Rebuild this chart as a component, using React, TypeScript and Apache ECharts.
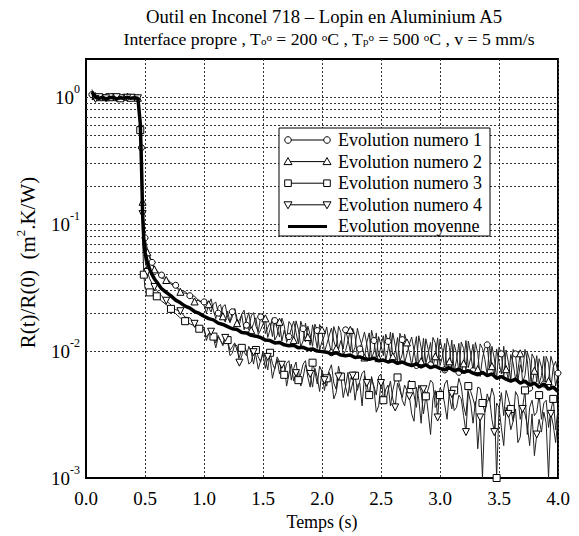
import React, { useEffect, useRef } from 'react';
import * as echarts from 'echarts';

const FONT = 'Liberation Serif';

const TITLE = 'Outil en Inconel 718 – Lopin en Aluminium A5';
const SUBTITLE = 'Interface propre , T{sub|o}{sup|o} = 200 {sup|o}C , T{sub|p}{sup|o} = 500 {sup|o}C , v = 5 mm/s';
const X_NAME = 'Temps (s)';
const Y_NAME = 'R(t)/R(0)  (m{sup|2}.K/W)';
const LEGEND_LABELS = ['Evolution numero 1', 'Evolution numero 2', 'Evolution numero 3', 'Evolution numero 4', 'Evolution moyenne'];

const X_MIN = 0;
const X_MAX = 4;
const X_INTERVAL = 0.5;
const Y_MIN = 0.001;
const Y_MAX = 2;
const Y_GRID = [
  0.002, 0.003, 0.004, 0.005, 0.006, 0.007, 0.008, 0.009,
  0.01, 0.02, 0.03, 0.04, 0.05, 0.06, 0.07, 0.08, 0.09,
  0.1, 0.2, 0.3, 0.4, 0.5, 0.6, 0.7, 0.8, 0.9, 1,
];

// time base of the mean curve
const TIME = [
  0.05, 0.08, 0.11, 0.14, 0.17, 0.20, 0.23, 0.26, 0.29, 0.32, 0.35, 0.38, 0.41, 0.44,
  0.46, 0.47, 0.48, 0.49, 0.50, 0.52, 0.54, 0.56, 0.58, 0.60,
  0.64, 0.68, 0.72, 0.76, 0.80, 0.84, 0.88, 0.92, 0.96, 1.00,
  1.04, 1.08, 1.12, 1.16, 1.20, 1.24, 1.28, 1.32, 1.36, 1.40,
  1.44, 1.48, 1.52, 1.56, 1.60, 1.64, 1.68, 1.72, 1.76, 1.80,
  1.84, 1.88, 1.92, 1.96, 2.00, 2.04, 2.08, 2.12, 2.16, 2.20,
  2.24, 2.28, 2.32, 2.36, 2.40, 2.44, 2.48, 2.52, 2.56, 2.60,
  2.64, 2.68, 2.72, 2.76, 2.80, 2.84, 2.88, 2.92, 2.96, 3.00,
  3.04, 3.08, 3.12, 3.16, 3.20, 3.24, 3.28, 3.32, 3.36, 3.40,
  3.44, 3.48, 3.52, 3.56, 3.60, 3.64, 3.68, 3.72, 3.76, 3.80,
  3.84, 3.88, 3.92, 3.96, 4.00,
];

// time base of the four measured evolutions
const TIME_FINE = [
  0.05, 0.08, 0.11, 0.14, 0.17, 0.20, 0.23, 0.26, 0.29, 0.32, 0.35, 0.38, 0.41, 0.44,
  0.46, 0.47, 0.48, 0.49, 0.50, 0.52, 0.54, 0.56, 0.58, 0.60,
  0.64, 0.68, 0.72, 0.76, 0.80, 0.84, 0.88, 0.92, 0.96,
  1.00, 1.02, 1.04, 1.06, 1.08, 1.10, 1.12, 1.14, 1.16, 1.18,
  1.20, 1.22, 1.24, 1.26, 1.28, 1.30, 1.32, 1.34, 1.36, 1.38,
  1.40, 1.42, 1.44, 1.46, 1.48, 1.50, 1.52, 1.54, 1.56, 1.58,
  1.60, 1.62, 1.64, 1.66, 1.68, 1.70, 1.72, 1.74, 1.76, 1.78,
  1.80, 1.82, 1.84, 1.86, 1.88, 1.90, 1.92, 1.94, 1.96, 1.98,
  2.00, 2.02, 2.04, 2.06, 2.08, 2.10, 2.12, 2.14, 2.16, 2.18,
  2.20, 2.22, 2.24, 2.26, 2.28, 2.30, 2.32, 2.34, 2.36, 2.38,
  2.40, 2.42, 2.44, 2.46, 2.48, 2.50, 2.52, 2.54, 2.56, 2.58,
  2.60, 2.62, 2.64, 2.66, 2.68, 2.70, 2.72, 2.74, 2.76, 2.78,
  2.80, 2.82, 2.84, 2.86, 2.88, 2.90, 2.92, 2.94, 2.96, 2.98,
  3.00, 3.02, 3.04, 3.06, 3.08, 3.10, 3.12, 3.14, 3.16, 3.18,
  3.20, 3.22, 3.24, 3.26, 3.28, 3.30, 3.32, 3.34, 3.36, 3.38,
  3.40, 3.42, 3.44, 3.46, 3.48, 3.50, 3.52, 3.54, 3.56, 3.58,
  3.60, 3.62, 3.64, 3.66, 3.68, 3.70, 3.72, 3.74, 3.76, 3.78,
  3.80, 3.82, 3.84, 3.86, 3.88, 3.90, 3.92, 3.94, 3.96, 3.98,
  4.00,
];

const EVOL_1 = [
  1.05, 0.99, 0.97, 1.00, 0.96, 0.99, 1.01, 0.97, 0.98, 1.00, 0.97, 0.99, 1.00, 0.98,
  0.70, 0.40, 0.16, 0.10, 0.078, 0.064, 0.056, 0.050, 0.046, 0.043,
  0.0397, 0.0377, 0.0345, 0.0330, 0.0302, 0.0294, 0.0273, 0.0271, 0.0246,
  0.0244, 0.0254, 0.0220, 0.0203, 0.0236, 0.0243, 0.0199, 0.0184, 0.0224, 0.0232,
  0.0184, 0.0168, 0.0204, 0.0215, 0.0181, 0.0161, 0.0196, 0.0210, 0.0160, 0.0147,
  0.0189, 0.0201, 0.0157, 0.0142, 0.0186, 0.0194, 0.0137, 0.0153, 0.0167, 0.0130,
  0.0174, 0.0151, 0.0129, 0.0182, 0.0159, 0.0117, 0.0130, 0.0149, 0.0172, 0.0140,
  0.0114, 0.0172, 0.0150, 0.0118, 0.0157, 0.0134, 0.0109, 0.0163, 0.0145, 0.0102,
  0.0119, 0.0132, 0.0155, 0.0116, 0.0097, 0.0156, 0.0136, 0.0103, 0.0121, 0.0104,
  0.0147, 0.0124, 0.0098, 0.0151, 0.0132, 0.0090, 0.0104, 0.0119, 0.0141, 0.0113,
  0.0086, 0.0146, 0.0121, 0.0090, 0.0130, 0.0111, 0.0092, 0.0136, 0.0119, 0.0091,
  0.0139, 0.0111, 0.0082, 0.0138, 0.0123, 0.0080, 0.0095, 0.0113, 0.0129, 0.0101,
  0.0077, 0.0132, 0.0107, 0.0076, 0.0125, 0.0103, 0.0078, 0.0128, 0.0116, 0.0078,
  0.0124, 0.0101, 0.0071, 0.0126, 0.0107, 0.0071, 0.0113, 0.0096, 0.0068, 0.0118,
  0.0105, 0.0070, 0.0120, 0.0095, 0.0070, 0.0117, 0.0096, 0.0063, 0.0088, 0.0106,
  0.0112, 0.0072, 0.0109, 0.0088, 0.0060, 0.0107, 0.0095, 0.0061, 0.0102, 0.0081,
  0.0059, 0.0103, 0.0095, 0.0058, 0.0078, 0.0068, 0.0103, 0.0084, 0.0051, 0.0095,
  0.0087, 0.0057, 0.0087, 0.0075, 0.0055, 0.0091, 0.0080, 0.0051, 0.0075, 0.0083,
  0.0067,
];

const EVOL_2 = [
  0.98, 1.02, 0.99, 0.97, 1.00, 0.98, 0.96, 1.00, 0.99, 0.97, 1.01, 0.98, 0.97, 0.99,
  0.66, 0.36, 0.15, 0.092, 0.072, 0.060, 0.054, 0.049, 0.044, 0.042,
  0.0378, 0.0363, 0.0337, 0.0320, 0.0293, 0.0285, 0.0283, 0.0246, 0.0253,
  0.0229, 0.0199, 0.0234, 0.0258, 0.0208, 0.0180, 0.0224, 0.0233, 0.0188, 0.0169,
  0.0206, 0.0168, 0.0186, 0.0216, 0.0166, 0.0176, 0.0193, 0.0147, 0.0175, 0.0201,
  0.0146, 0.0165, 0.0183, 0.0135, 0.0147, 0.0163, 0.0181, 0.0128, 0.0148, 0.0183,
  0.0122, 0.0133, 0.0170, 0.0120, 0.0146, 0.0124, 0.0171, 0.0160, 0.0122, 0.0173,
  0.0148, 0.0108, 0.0120, 0.0166, 0.0129, 0.0111, 0.0161, 0.0133, 0.0105, 0.0162,
  0.0147, 0.0098, 0.0113, 0.0131, 0.0152, 0.0120, 0.0105, 0.0157, 0.0140, 0.0093,
  0.0101, 0.0120, 0.0147, 0.0096, 0.0107, 0.0151, 0.0126, 0.0110, 0.0089, 0.0117,
  0.0139, 0.0087, 0.0099, 0.0139, 0.0088, 0.0111, 0.0132, 0.0084, 0.0103, 0.0141,
  0.0091, 0.0098, 0.0128, 0.0083, 0.0094, 0.0136, 0.0117, 0.0098, 0.0077, 0.0101,
  0.0130, 0.0075, 0.0083, 0.0126, 0.0080, 0.0095, 0.0117, 0.0075, 0.0091, 0.0127,
  0.0077, 0.0090, 0.0115, 0.0072, 0.0083, 0.0122, 0.0069, 0.0085, 0.0115, 0.0067,
  0.0080, 0.0121, 0.0074, 0.0088, 0.0113, 0.0065, 0.0072, 0.0114, 0.0105, 0.0086,
  0.0064, 0.0114, 0.0076, 0.0064, 0.0104, 0.0081, 0.0066, 0.0109, 0.0072, 0.0059,
  0.0094, 0.0080, 0.0060, 0.0070, 0.0096, 0.0057, 0.0064, 0.0098, 0.0085, 0.0054,
  0.0070, 0.0092, 0.0055, 0.0064, 0.0091, 0.0052, 0.0058, 0.0091, 0.0078, 0.0053,
  0.0065,
];

const EVOL_3 = [
  1.15, 0.98, 1.00, 0.97, 0.99, 1.00, 0.96, 0.99, 0.98, 1.00, 0.97, 0.99, 0.98, 0.99,
  0.55, 0.25, 0.075, 0.040, 0.031, 0.030, 0.029, 0.028, 0.0275, 0.027,
  0.0248, 0.0232, 0.0215, 0.0197, 0.0182, 0.0172, 0.0164, 0.0158, 0.0150,
  0.0147, 0.0129, 0.0137, 0.0146, 0.0130, 0.0116, 0.0133, 0.0121, 0.0113, 0.0127,
  0.0122, 0.0101, 0.0108, 0.0116, 0.0101, 0.0089, 0.0106, 0.0098, 0.0092, 0.0109,
  0.0098, 0.0079, 0.0102, 0.0090, 0.0082, 0.0100, 0.0088, 0.0071, 0.0097, 0.0080,
  0.0072, 0.0090, 0.0082, 0.0064, 0.0065, 0.0080, 0.0084, 0.0059, 0.0073, 0.0082,
  0.0059, 0.0066, 0.0079, 0.0084, 0.0062, 0.0052, 0.0081, 0.0069, 0.0055, 0.0076,
  0.0069, 0.0049, 0.0061, 0.0070, 0.0078, 0.0056, 0.0050, 0.0076, 0.0063, 0.0043,
  0.0053, 0.0068, 0.0047, 0.0056, 0.0064, 0.0049, 0.0058, 0.0067, 0.0070, 0.0042,
  0.0045, 0.0061, 0.0053, 0.0045, 0.0063, 0.0066, 0.0041, 0.0050, 0.0054, 0.0037,
  0.0049, 0.0059, 0.0062, 0.0053, 0.0041, 0.0037, 0.0049, 0.0059, 0.0054, 0.0045,
  0.0036, 0.0054, 0.0048, 0.0032, 0.0044, 0.0050, 0.0059, 0.0056, 0.0036, 0.0038,
  0.0045, 0.0043, 0.0055, 0.0059, 0.0044, 0.0035, 0.0049, 0.0047, 0.0061, 0.0053,
  0.0037, 0.0031, 0.0053, 0.0048, 0.0042, 0.0036, 0.0052, 0.0051, 0.0039, 0.0033,
  0.0046, 0.0040, 0.0051, 0.0044, 0.0010, 0.0035, 0.0047, 0.0031, 0.0049, 0.0042,
  0.0035, 0.0028, 0.0048, 0.0044, 0.0029, 0.0036, 0.0049, 0.0022, 0.0036, 0.0041,
  0.0031, 0.0033, 0.0045, 0.0029, 0.0039, 0.0041, 0.0025, 0.0034, 0.0042, 0.0024,
  0.0035,
];

const EVOL_4 = [
  1.10, 0.97, 0.99, 1.01, 0.98, 0.96, 0.99, 1.00, 0.97, 0.98, 0.99, 0.97, 1.00, 0.98,
  0.62, 0.30, 0.12, 0.070, 0.052, 0.042, 0.037, 0.034, 0.032, 0.030,
  0.0273, 0.0249, 0.0231, 0.0212, 0.0206, 0.0185, 0.0183, 0.0164, 0.0154,
  0.0154, 0.0121, 0.0137, 0.0142, 0.0127, 0.0106, 0.0129, 0.0121, 0.0110, 0.0127,
  0.0119, 0.0092, 0.0096, 0.0113, 0.0110, 0.0081, 0.0092, 0.0109, 0.0100, 0.0079,
  0.0082, 0.0098, 0.0092, 0.0072, 0.0084, 0.0095, 0.0073, 0.0090, 0.0087, 0.0061,
  0.0074, 0.0086, 0.0066, 0.0078, 0.0078, 0.0053, 0.0066, 0.0079, 0.0058, 0.0067,
  0.0072, 0.0053, 0.0062, 0.0078, 0.0068, 0.0066, 0.0052, 0.0073, 0.0062, 0.0048,
  0.0071, 0.0059, 0.0053, 0.0068, 0.0061, 0.0042, 0.0047, 0.0063, 0.0065, 0.0067,
  0.0052, 0.0044, 0.0061, 0.0064, 0.0041, 0.0054, 0.0056, 0.0037, 0.0064, 0.0056,
  0.0043, 0.0063, 0.0051, 0.0033, 0.0037, 0.0056, 0.0058, 0.0040, 0.0049, 0.0058,
  0.0042, 0.0036, 0.0056, 0.0049, 0.0043, 0.0054, 0.0049, 0.0044, 0.0032, 0.0028,
  0.0052, 0.0042, 0.0027, 0.0050, 0.0047, 0.0033, 0.0022, 0.0042, 0.0049, 0.0030,
  0.0051, 0.0048, 0.0038, 0.0029, 0.0049, 0.0046, 0.0034, 0.0036, 0.0045, 0.0042,
  0.0031, 0.0023, 0.0048, 0.0039, 0.0027, 0.0040, 0.0017, 0.0030, 0.0010, 0.0033,
  0.0040, 0.0043, 0.0029, 0.0023, 0.0039, 0.0036, 0.0025, 0.0018, 0.0036, 0.0032,
  0.0024, 0.0028, 0.0035, 0.0019, 0.0021, 0.0035, 0.0032, 0.0026, 0.0018, 0.0032,
  0.0015, 0.0022, 0.0029, 0.0023, 0.0033, 0.0027, 0.0010, 0.0032, 0.0026, 0.0019,
  0.0030,
];

const MOYENNE = [
  1.10, 1.00, 0.98, 1.00, 0.97, 0.99, 1.00, 0.97, 0.99, 0.98, 1.00, 0.98, 0.99, 0.98,
  0.62, 0.30, 0.12, 0.075, 0.060, 0.050, 0.044, 0.040, 0.037, 0.035,
  0.031, 0.029, 0.0272, 0.0252, 0.0240, 0.0226, 0.0218, 0.0205, 0.0198, 0.0188,
  0.0180, 0.0176, 0.0166, 0.0162, 0.0156, 0.0150, 0.0148, 0.0140, 0.0139, 0.0133,
  0.0131, 0.0128, 0.0122, 0.0121, 0.0116, 0.0117, 0.0112, 0.0110, 0.0111, 0.0106,
  0.0107, 0.0103, 0.0104, 0.0100, 0.0099, 0.0098, 0.0095, 0.0097, 0.0093, 0.0092,
  0.0093, 0.0089, 0.0090, 0.0087, 0.0086, 0.0088, 0.0084, 0.0085, 0.0082, 0.0084,
  0.0080, 0.0082, 0.0079, 0.0077, 0.0079, 0.0075, 0.0078, 0.0074, 0.0076, 0.0073,
  0.0071, 0.0074, 0.0070, 0.0072, 0.0068, 0.0070, 0.0067, 0.0065, 0.0068, 0.0064,
  0.0066, 0.0061, 0.0063, 0.0060, 0.0058, 0.0060, 0.0056, 0.0058, 0.0054, 0.0056,
  0.0052, 0.0055, 0.0050, 0.0052, 0.0048,
];

function legendSymbol(kind: string, cx: number, cy: number): any {
  const style = { fill: '#fff', stroke: '#000', lineWidth: 1 };
  if (kind === 'circle') return { type: 'circle', z: 101, shape: { cx, cy, r: 3.3 }, style };
  if (kind === 'rect') return { type: 'rect', z: 101, shape: { x: cx - 3.3, y: cy - 3.3, width: 6.6, height: 6.6 }, style };
  if (kind === 'up') return { type: 'polygon', z: 101, shape: { points: [[cx, cy - 4], [cx - 4, cy + 3], [cx + 4, cy + 3]] }, style };
  return { type: 'polygon', z: 101, shape: { points: [[cx, cy + 4], [cx - 4, cy - 3], [cx + 4, cy - 3]] }, style };
}

export default function App() {
  const ref = useRef<HTMLDivElement>(null);

  useEffect(() => {
    if (!ref.current) return;
    const chart = echarts.init(ref.current, null, { renderer: 'svg' });

    const pts = (times: number[], vals: number[]) => times.map((t, i) => [t, vals[i]]);
    // index where the 0.02 s sampling begins in TIME_FINE
    const FINE_START = 33;
    const markerSize = (coarseOffset: number, fineOffset: number, size: number) => (_v: any, p: any) => {
      const i = p.dataIndex;
      const show = i < FINE_START ? i % 3 === coarseOffset : (i - FINE_START) % 6 === fineOffset;
      return show ? size : 0;
    };

    const thin = (name: string, vals: number[], symbol: string, co: number, fo: number, rotate = 0, extra: any = {}) => ({
      name,
      type: 'line',
      data: pts(TIME_FINE, vals),
      symbol,
      symbolRotate: rotate,
      symbolSize: markerSize(co, fo, symbol === 'circle' ? 6 : 7),
      showSymbol: true,
      showAllSymbol: true,
      silent: true,
      z: 2,
      lineStyle: { color: '#222', width: 1 },
      itemStyle: { color: '#fff', borderColor: '#000', borderWidth: 1 },
      ...extra,
    });

    const legendKinds = ['circle', 'up', 'rect', 'down', 'none'];
    const rowY = [140, 161.6, 183.2, 204.8, 226.4];
    const legendChildren: any[] = [
      { type: 'rect', z: 100, shape: { x: 279, y: 128, width: 211, height: 108 }, style: { fill: '#fff', stroke: '#000', lineWidth: 1 } },
    ];
    LEGEND_LABELS.forEach((label, i) => {
      const y = rowY[i];
      legendChildren.push({
        type: 'line',
        z: 101,
        shape: { x1: 288, y1: y, x2: 327, y2: y },
        style: { stroke: '#000', lineWidth: i === 4 ? 3 : 1 },
      });
      if (legendKinds[i] !== 'none') {
        legendChildren.push(legendSymbol(legendKinds[i], 288, y));
        legendChildren.push(legendSymbol(legendKinds[i], 327, y));
      }
      legendChildren.push({
        type: 'text',
        z: 101,
        x: 338,
        y,
        style: { text: label, fontSize: 18, fontFamily: FONT, fill: '#000', align: 'left', verticalAlign: 'middle' },
      });
    });

    const option: any = {
      animation: false,
      backgroundColor: '#fff',
      textStyle: { fontFamily: FONT },
      grid: { left: 86, right: 21, top: 59, bottom: 51, show: true, borderColor: '#000', borderWidth: 2, backgroundColor: 'transparent' },
      xAxis: {
        type: 'value',
        min: X_MIN,
        max: X_MAX,
        interval: X_INTERVAL,
        name: X_NAME,
        nameLocation: 'middle',
        nameGap: 35,
        nameTextStyle: { fontSize: 18, fontFamily: FONT, color: '#000' },
        axisLine: { show: true, lineStyle: { color: '#000', width: 2 } },
        axisTick: { show: false },
        axisLabel: { fontSize: 19, fontFamily: FONT, color: '#000', margin: 11, formatter: (v: number) => v.toFixed(1) },
        splitLine: { show: true, lineStyle: { type: [2, 2], color: '#333', width: 1 } },
      },
      yAxis: {
        type: 'log',
        logBase: 10,
        min: Y_MIN,
        max: Y_MAX,
        name: Y_NAME,
        nameLocation: 'middle',
        nameGap: 45,
        nameTextStyle: {
          fontSize: 21,
          fontFamily: FONT,
          color: '#000',
          padding: [0, 0, 0, 12],
          rich: { sup: { fontSize: 13, fontFamily: FONT, color: '#000', padding: [0, 0, 14, 0] } },
        },
        axisLine: { show: true, lineStyle: { color: '#000', width: 2 } },
        axisTick: { show: false },
        splitLine: { show: false },
        axisLabel: {
          margin: 6,
          formatter: (v: number) => {
            const e = Math.log10(v);
            const r = Math.round(e);
            if (Math.abs(e - r) > 1e-6) return '';
            return `{b|10}{s|${r}}`;
          },
          rich: {
            b: { fontSize: 19, fontFamily: FONT, color: '#000' },
            s: { fontSize: 12, fontFamily: FONT, color: '#000', padding: [0, 0, 16, 0] },
          },
        },
      },
      graphic: [
        {
          type: 'text',
          x: 324,
          y: 16,
          style: { text: TITLE, fontSize: 18.7, lineHeight: 17, fontFamily: FONT, fill: '#000', align: 'center', verticalAlign: 'middle' },
        },
        {
          type: 'text',
          x: 329,
          y: 38.5,
          style: {
            text: SUBTITLE,
            fontSize: 17.7,
            lineHeight: 15,
            fontFamily: FONT,
            fill: '#000',
            align: 'center',
            verticalAlign: 'middle',
            rich: {
              sub: { fontSize: 11, lineHeight: 3, fontFamily: FONT, fill: '#000', verticalAlign: 'bottom' },
              sup: { fontSize: 11, lineHeight: 7, fontFamily: FONT, fill: '#000', verticalAlign: 'top' },
            },
          },
        },
        { type: 'group', z: 100, children: legendChildren },
      ],
      series: [
        thin(LEGEND_LABELS[0], EVOL_1, 'circle', 0, 0, 0, {
          markLine: {
            silent: true,
            symbol: ['none', 'none'],
            label: { show: false },
            z: 1,
            lineStyle: { type: [2, 2], color: '#333', width: 1 },
            data: Y_GRID.map((v) => ({ yAxis: v })),
          },
        }),
        thin(LEGEND_LABELS[1], EVOL_2, 'triangle', 1, 2),
        thin(LEGEND_LABELS[2], EVOL_3, 'rect', 2, 4),
        thin(LEGEND_LABELS[3], EVOL_4, 'triangle', 1, 3, 180),
        {
          name: LEGEND_LABELS[4],
          type: 'line',
          data: pts(TIME, MOYENNE),
          symbol: 'none',
          silent: true,
          z: 3,
          lineStyle: { color: '#000', width: 3.5 },
        },
      ],
    };

    chart.setOption(option);
    return () => chart.dispose();
  }, []);

  return (
    <div
      ref={ref}
      style={{ position: 'fixed', left: 0, top: 0, width: 579, height: 536, background: '#fff' }}
    />
  );
}
